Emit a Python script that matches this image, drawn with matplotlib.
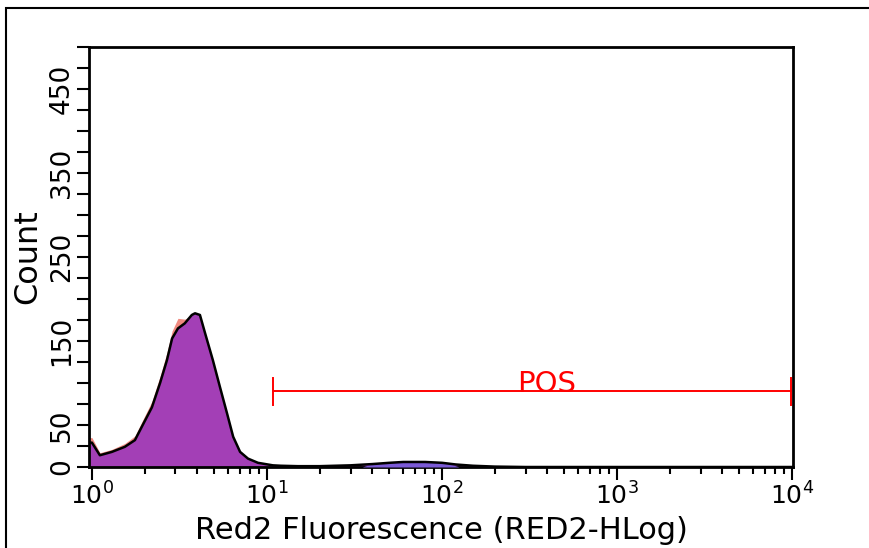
import numpy as np
import matplotlib
matplotlib.use("Agg")
import matplotlib.pyplot as plt
from matplotlib.patches import Rectangle

# histogram (fluorescence value, count)
fluor = [0.97, 1.0, 1.11, 1.30, 1.54, 1.76, 1.95, 2.20, 2.45, 2.68, 2.87,
         3.10, 3.39, 3.72, 3.88, 4.14, 4.42, 4.91, 5.39, 5.91, 6.41, 7.02,
         7.79, 8.88, 10.8, 12, 15, 20, 30, 40, 50, 60, 80, 100, 120, 150,
         200, 300, 1000, 10000]
count_main = [29, 29, 14, 18, 24, 32, 50, 71, 100, 127, 153,
              165, 171, 181, 183, 181, 160, 127, 95, 64, 36, 18,
              10, 5, 2, 1.5, 1, 1, 2, 3.5, 5, 6, 6, 5, 3, 1.5,
              0.5, 0, 0, 0]
count_red = [35, 35, 17, 21, 28, 37, 56, 78, 108, 136, 162,
             177, 176, 180, 182, 181, 160, 127, 95, 64, 36, 18,
             10, 5, 2, 1.5, 1, 1, 2, 3.5, 5, 6, 6, 5, 3, 1.5,
             0.5, 0, 0, 0]
# blue-ish bump near 10^2
bump_x = [35, 40, 48, 55, 70, 90, 110, 125]
bump_y = [0, 4, 4, 6, 7, 6, 4, 0]

gate_name = "POS"
gate_lo, gate_hi, gate_level = 10.8, 9870, 90

yticks = list(range(0, 501, 25))
ylabels_shown = [0, 50, 150, 250, 350, 450]

fig = plt.figure(figsize=(8.7, 5.48), dpi=100)
ax = fig.add_axes([0.1023, 0.1478, 0.8092, 0.7664])

ax.fill_between(fluor, count_red, color="#f08a80", lw=0, zorder=1)
ax.fill_between(fluor, count_main, color="#a33fb6", lw=0, zorder=2)
ax.fill_between(bump_x, bump_y, color="#7b5ad6", lw=0, zorder=3)
ax.plot(fluor, count_main, color="black", lw=1.8, zorder=4)

# gate bar
ax.plot([gate_lo, gate_hi], [gate_level, gate_level], color="red", lw=1.4, zorder=5)
for g in (gate_lo, gate_hi):
    ax.plot([g, g], [gate_level - 16, gate_level + 16], color="red", lw=1.4, zorder=5)
ax.text(398, gate_level + 9, gate_name, color="red",
        fontsize=21, ha="center", va="center", zorder=6)

ax.set_xscale("log")
ax.set_xlim(0.962, 10 ** 4.005)
ax.set_ylim(0, 500)
ax.set_yticks(yticks, [str(t) if t in ylabels_shown else "" for t in yticks])
ax.tick_params(axis="y", labelrotation=90, labelsize=19, length=9, width=1.5, pad=1)
for lab in ax.get_yticklabels():
    lab.set_va("center")
ax.tick_params(axis="x", which="major", labelsize=18, length=9, width=1.5, pad=2)
ax.tick_params(axis="x", which="minor", length=5, width=1.5)
for s in ax.spines.values():
    s.set_linewidth(2)

ax.set_xlabel("Red2 Fluorescence (RED2-HLog)", fontsize=22, labelpad=5)
ax.set_ylabel("Count", fontsize=23, labelpad=4)

# outer frame
fig.patches.append(Rectangle((6 / 870, -0.1), 1.1, 1 - 8 / 548 + 0.1,
                             transform=fig.transFigure, fill=False,
                             edgecolor="black", lw=1.5))

fig.savefig("out.png", dpi=100)
